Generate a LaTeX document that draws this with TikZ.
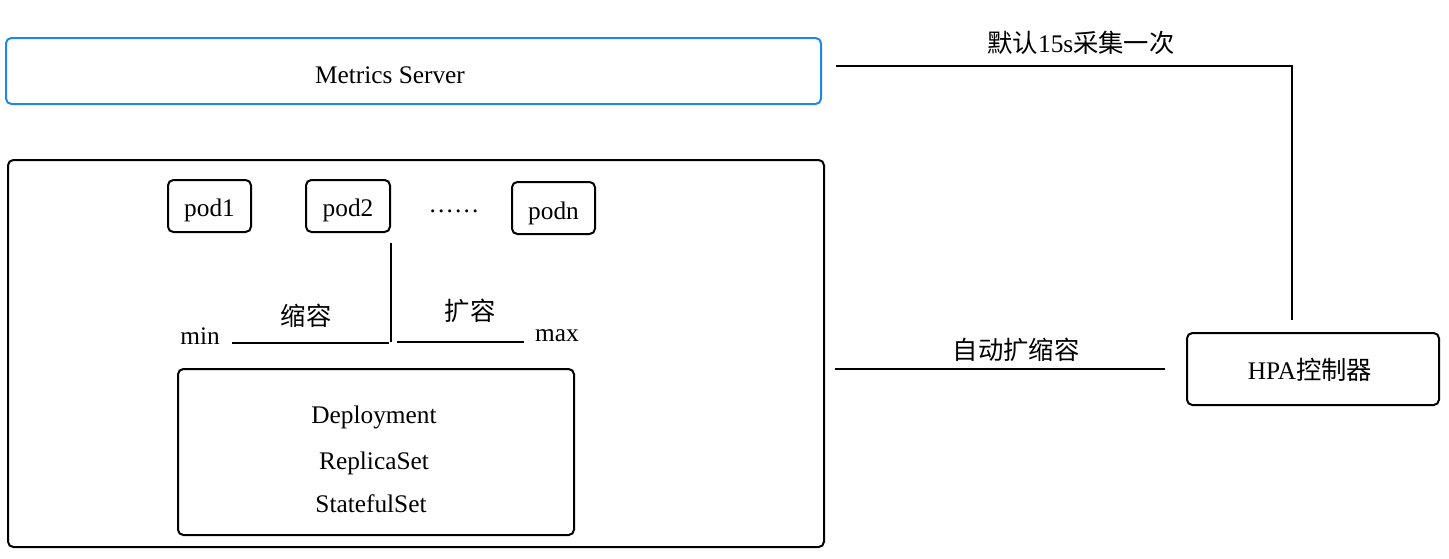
\documentclass[tikz,border=0pt]{standalone}
\usepackage{fontspec}
\setmainfont{Liberation Serif}
\newfontfamily\cjk{Noto Sans CJK SC}
\definecolor{msblue}{RGB}{30,136,229}
\begin{document}
\begin{tikzpicture}[x=0.75pt,y=-0.75pt,
  every node/.style={font=\fontsize{19}{22}\selectfont, inner sep=0pt},
  box/.style={draw=black, line width=1.5pt, rounded corners=4pt, rectangle},
  conn/.style={line width=1.5pt, draw=black},
  lbl/.style={anchor=center}]
\useasboundingbox (0,0) rectangle (1449,558);
% Metrics Server
\node[box, draw=msblue, minimum width=815*0.75pt, minimum height=66*0.75pt] (ms) at (413.5,71) {};
\node[lbl] (mst) at (390,75) {Metrics Server};
% container
\node[box, minimum width=816*0.75pt, minimum height=387*0.75pt] (cont) at (416,353.5) {};
% pods
\node[box, minimum width=83*0.75pt, minimum height=52*0.75pt] (pod1) at (209.5,206) {};
\node[lbl] at (209.5,210) {pod1};
\node[box, minimum width=84*0.75pt, minimum height=52*0.75pt] (pod2) at (348,206) {};
\node[lbl] at (348,210) {pod2};
\node[lbl] (dots) at (454,211) {……};
\node[box, minimum width=83*0.75pt, minimum height=52*0.75pt] (podn) at (553.5,208) {};
\node[lbl] at (553.5,213) {podn};
% scale lines
\coordinate (vt) at (391,243);
\coordinate (vb) at (391,342);
\draw[conn] (vt) -- (vb);
\coordinate (l1a) at (232,343);
\coordinate (l1b) at (389,343);
\draw[conn] (l1a) -- (l1b);
\coordinate (l2a) at (397,342);
\coordinate (l2b) at (524,342);
\draw[conn] (l2a) -- (l2b);
\node[lbl] (min) at (200,336) {min};
\node[lbl] (max) at (557,336) {max};
\node[lbl] (shrink) at (306,316) {\cjk 缩容};
\node[lbl] (grow) at (470,311) {\cjk 扩容};
% deployment box
\node[box, minimum width=396*0.75pt, minimum height=166*0.75pt] (dep) at (376,452) {};
\node[lbl] (d1) at (374,417) {Deployment};
\node[lbl] (d2) at (374,463) {ReplicaSet};
\node[lbl] (d3) at (371,504) {StatefulSet};
% HPA
\node[box, minimum width=252*0.75pt, minimum height=72*0.75pt] (hpa) at (1313,369) {};
\node[lbl] (hpat) at (1310,370) {HPA{\cjk 控制器}};
% collection line
\coordinate (c1) at (836,66);
\coordinate (c2) at (1292,66);
\coordinate (c3) at (1292,320);
\draw[conn] (c1) -- (c2) -- (c3);
\node[lbl] (clbl) at (1081,43) {{\cjk 默认}15s{\cjk 采集一次}};
% autoscale line
\coordinate (a1) at (835,369);
\coordinate (a2) at (1165,369);
\draw[conn] (a1) -- (a2);
\node[lbl] (albl) at (1016,350) {\cjk 自动扩缩容};
\end{tikzpicture}
\end{document}
